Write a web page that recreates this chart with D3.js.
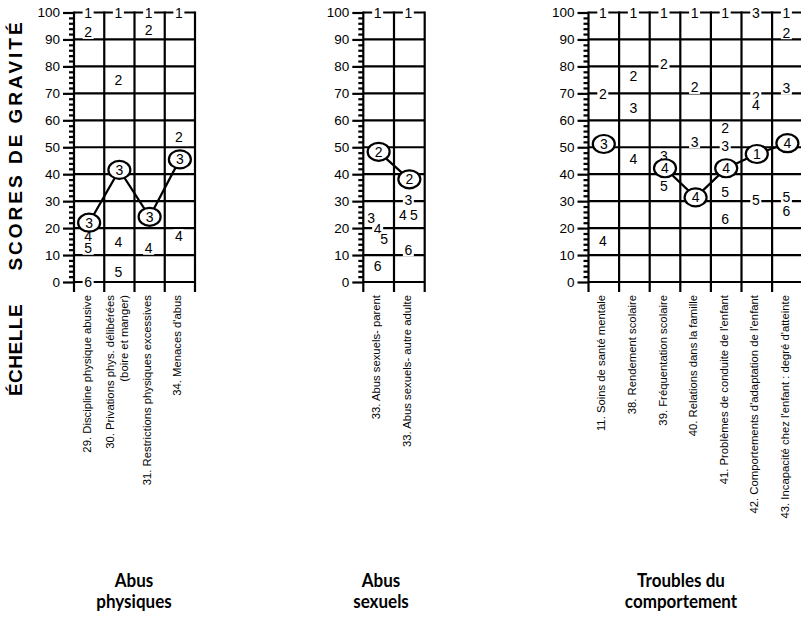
<!DOCTYPE html>
<html><head><meta charset="utf-8">
<script src="https://cdn.jsdelivr.net/npm/d3@7"></script>
<style>body{margin:0;background:#fff} text{fill:#000}</style>
</head><body><svg id="c" width="801" height="618"></svg>
<script>
// ---------- DATA ----------
const yTicks = [0,10,20,30,40,50,60,70,80,90,100];
const yTitle = "SCORES DE GRAVITÉ";
const xTitle = "ÉCHELLE";
const groupTitles = [["Abus","physiques"],["Abus","sexuels"],["Troubles du","comportement"]];

const scalesPhys = ["29. Discipline physique abusive","30. Privations phys. délibérées\n(boire et manger)","31. Restrictions physiques excessives","34. Menaces d'abus"];
// score position of levels 1..6 on each scale (null = absent)
const levelsPhys = [
  [100, 92.6, 22, 17.2, 12.5, 0],
  [100, 75, 41.6, 15, 3.8, null],
  [100, 93.5, 24.2, 12.5, null, null],
  [100, 54, 45.5, 17.2, null, null]
];
const circledPhys = [3, 3, 3, 3];

const scalesSex = ["33. Abus sexuels- parent","33. Abus sexuels- autre adulte"];
const levelsSex = [
  [100, 48.3, 23.6, 19.6, 15.8, 5.9],
  [100, 38.1, 30.4, 24.9, 24.9, 11.9]
];
const circledSex = [2, 2];

const scalesComp = ["11. Soins de santé mentale","38. Rendement scolaire","39. Fréquentation scolaire","40. Relations dans la famille","41. Problèmes de conduite de l'enfant","42. Comportements d'adaptation de l'enfant","43. Incapacité chez l'enfant : degré d'atteinte"];
const levelsComp = [
  [100, 69.6, 51.2, 15.3, null, null],
  [100, 76.4, 64.7, 45.5, null, null],
  [100, 80.9, 46.8, 42.2, 35.6, null],
  [100, 72.2, 52.1, 31.4, null, null],
  [100, 57, 50.6, 42.2, 33.5, 23.3],
  [47.5, 68.8, 100, 65.7, 30.4, null],
  [100, 92.5, 71.9, 51.5, 31.7, 26.5]
];
const circledComp = [3, null, 4, 4, 4, 1, 4];

// ---------- LAYOUT ----------
const svg = d3.select("#c");
svg.append("rect").attr("width",801).attr("height",618).attr("fill","#fff");
const SW = 2.2;
const y = d3.scaleLinear().domain([0,100]).range([282, 12.5]);
const numFont = "'Liberation Sans', Arial, sans-serif";

const panels = [
  {scales: scalesPhys, levels: levelsPhys, circled: circledPhys, x0: 74, step: 30.25, tcx: 134, title: groupTitles[0]},
  {scales: scalesSex, levels: levelsSex, circled: circledSex, x0: 363.3, step: 30.7, tcx: 381, title: groupTitles[1]},
  {scales: scalesComp, levels: levelsComp, circled: circledComp, x0: 588.5, step: 30.6, tcx: 681, title: groupTitles[2]}
];

panels.forEach(p => {
  const n = p.scales.length;
  const x = d3.scaleBand().domain(d3.range(n)).range([p.x0, p.x0 + n*p.step]).padding(0);
  const g = svg.append("g");
  const xEnd = p.x0 + n*p.step;

  g.selectAll("line.h").data(yTicks).join("line")
    .attr("x1", p.x0).attr("x2", xEnd).attr("y1", d=>y(d)).attr("y2", d=>y(d))
    .attr("stroke","#000").attr("stroke-width",SW);
  g.selectAll("line.v").data(d3.range(n+1)).join("line")
    .attr("x1", i=> i===0 ? p.x0 : x(i-1)+x.bandwidth()).attr("x2", i=> i===0 ? p.x0 : x(i-1)+x.bandwidth())
    .attr("y1", y(100)-1).attr("y2", y(0)+10)
    .attr("stroke","#000").attr("stroke-width",SW);

  const ax = g.append("g").attr("transform",`translate(${p.x0},0)`)
    .call(d3.axisLeft(y).tickValues(yTicks).tickSize(11).tickPadding(3).tickFormat(d3.format("d")));
  ax.select(".domain").remove();
  ax.selectAll(".tick line").attr("stroke-width",SW);
  ax.selectAll(".tick text").attr("font-family",numFont).attr("font-size",13.5).attr("fill","#000");
  const minor = d3.range(0,101,2).filter(v=>v%10!==0);
  const axm = g.append("g").attr("transform",`translate(${p.x0},0)`)
    .call(d3.axisLeft(y).tickValues(minor).tickSize(5).tickFormat(""));
  axm.select(".domain").remove();
  axm.selectAll(".tick line").attr("stroke-width",SW);

  const pts = p.circled.map((c,i)=> c==null ? null : {i, v: p.levels[i][c-1]});
  const line = d3.line().defined(d=>d!=null).x(d=>x(d.i)+x.bandwidth()/2).y(d=>y(d.v));
  g.append("path").attr("d", line(pts)).attr("fill","none").attr("stroke","#000").attr("stroke-width",SW);

  p.levels.forEach((col, i) => {
    const cx = x(i) + x.bandwidth()/2;
    const items = col.map((v,k)=> v==null ? null : {lvl:k+1, v, dx:0}).filter(d=>d && p.circled[i] !== d.lvl);
    // equal values: side by side
    items.forEach(d => {
      const same = items.filter(e => Math.abs(e.v - d.v) < 1.5);
      if (same.length > 1) d.dx = (same.indexOf(d) - (same.length-1)/2) * 11;
    });
    // runs of consecutive close levels: diagonal stagger
    const plain = items.filter(d => d.dx === 0);
    let run = [];
    const flush = () => {
      if (run.length > 1) run.forEach((d,k) => d.dx = (k - (run.length-1)/2) * 6.5);
      run = [];
    };
    plain.forEach(d => {
      const prev = run[run.length-1];
      if (prev && d.lvl === prev.lvl+1 && prev.v - d.v < 4.5 && prev.v - d.v >= 1.5) run.push(d);
      else { flush(); run = [d]; }
    });
    flush();
    items.forEach(d => {
      const lx = cx + d.dx - 1, ly = y(d.v);
      g.append("rect").attr("x", lx-5.5).attr("y", ly-6.5).attr("width",11).attr("height",13).attr("fill","#fff");
      g.append("text").attr("x", lx).attr("y", ly).attr("dy","0.36em").attr("text-anchor","middle")
        .attr("font-family",numFont).attr("font-size",14).text(d.lvl);
    });
    if (p.circled[i] != null) {
      const v = col[p.circled[i]-1], ly = y(v);
      g.append("ellipse").attr("cx",cx).attr("cy",ly).attr("rx",11).attr("ry",9)
        .attr("fill","#fff").attr("stroke","#000").attr("stroke-width",SW);
      g.append("text").attr("x", cx).attr("y", ly).attr("dy","0.36em").attr("text-anchor","middle")
        .attr("font-family",numFont).attr("font-size",14).text(p.circled[i]);
    }
  });

  p.scales.forEach((s,i) => {
    const lines = s.split("\n");
    const cx = x(i) + x.bandwidth()/2;
    lines.forEach((t,j) => {
      const bx = cx + 1.5 + (j - (lines.length-1)/2) * 14;
      g.append("text").attr("transform",`translate(${bx},295) rotate(-90)`)
        .attr("text-anchor","end").attr("font-family",numFont).attr("font-size",11.3).text(t);
    });
  });

  p.title.forEach((t,j) => {
    svg.append("text").attr("transform",`translate(${p.tcx},${587 + j*21}) scale(0.92,1)`).attr("text-anchor","middle")
      .attr("font-family","Lato, 'Open Sans', sans-serif").attr("font-weight","bold").attr("font-size",18.5).text(t);
  });
});

svg.append("text").attr("transform","translate(22,145) rotate(-90)").attr("text-anchor","middle")
  .attr("font-family",numFont).attr("font-weight","bold").attr("font-size",19).attr("letter-spacing",3).text(yTitle);
svg.append("text").attr("transform","translate(22,350) rotate(-90)").attr("text-anchor","middle")
  .attr("font-family",numFont).attr("font-weight","bold").attr("font-size",19).attr("letter-spacing",0.5).text(xTitle);
</script>
</body></html>
